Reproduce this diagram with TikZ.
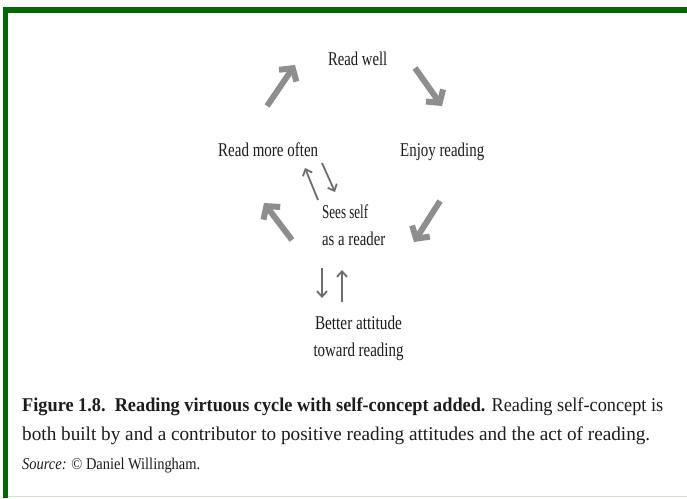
\documentclass[tikz,border=0pt]{standalone}
\usepackage{fontspec}
\setmainfont{Liberation Serif}
\usepackage{graphicx}
\usetikzlibrary{arrows.meta}
\definecolor{frame}{RGB}{0,102,0}
\definecolor{framelight}{RGB}{205,230,205}
\definecolor{arrowgray}{RGB}{142,142,142}
\definecolor{smallgray}{RGB}{110,110,110}
\definecolor{ink}{RGB}{28,28,28}
\newcommand{\fitw}[2]{\resizebox{#1}{\height}{#2}}
\begin{document}
\begin{tikzpicture}[x=1pt,y=-1pt,
  lbl/.style={inner sep=0pt, text=ink, font=\fontsize{19.5}{27}\selectfont},
  bigarrow/.style={draw=arrowgray, line width=6pt, -{Straight Barb[length=9pt,width=21pt]}},
  smallarrow/.style={draw=smallgray, line width=1.8pt, -{Straight Barb[length=5.5pt,width=10pt]}}]
\useasboundingbox (0,0) rectangle (687,498);
\fill[white] (0,0) rectangle (687,498);
% frame
\fill[frame] (3,7.3) rectangle (687,12.7);
\fill[frame] (3,7.3) rectangle (8.3,498);
\draw[framelight, line width=1pt] (8.3,496) -- (687,496);
% labels
\node[lbl, anchor=base west] (rw) at (328,65.7) {\fitw{59pt}{Read well}};
\node[lbl, anchor=base west] (rmo) at (218,156.7) {\fitw{100pt}{Read more often}};
\node[lbl, anchor=base west] (enjoy) at (400,156.7) {\fitw{84pt}{Enjoy reading}};
\node[lbl, anchor=base west, align=left] (sees) at (322,245) {\fitw{46pt}{Sees self}\\\fitw{63pt}{as a reader}};
\node[lbl, anchor=base, align=center] (better) at (358.5,356.5) {\fitw{87pt}{Better attitude}\\\fitw{90pt}{toward reading}};
% caption
\node[lbl, anchor=base west] (cap1) at (22,411.7) {\fitw{641pt}{\textbf{Figure 1.8.\ \ Reading virtuous cycle with self-concept added.} Reading self-concept is}};
\node[lbl, anchor=base west] (cap2) at (22,440) {\fitw{628pt}{both built by and a contributor to positive reading attitudes and the act of reading.}};
\node[lbl, anchor=base west, font=\fontsize{16.5}{20}\selectfont] (cap3) at (22,469) {\fitw{178pt}{\textit{Source:} © Daniel Willingham.}};
% arrow ends
\coordinate (a1s) at (267,106); \coordinate (a1e) at (295,65);
\coordinate (a2s) at (415,68);  \coordinate (a2e) at (442,106);
\coordinate (a3s) at (440,201); \coordinate (a3e) at (414,242);
\coordinate (a4s) at (292,240); \coordinate (a4e) at (264,203);
\coordinate (s1s) at (318,200); \coordinate (s1e) at (305,168);
\coordinate (s2s) at (322,163); \coordinate (s2e) at (335,192);
\coordinate (s3s) at (322,268); \coordinate (s3e) at (322,298);
\coordinate (s4s) at (342,302); \coordinate (s4e) at (342,270);
\draw[bigarrow] (a1s) -- (a1e);
\draw[bigarrow] (a2s) -- (a2e);
\draw[bigarrow] (a3s) -- (a3e);
\draw[bigarrow] (a4s) -- (a4e);
\draw[smallarrow] (s1s) -- (s1e);
\draw[smallarrow] (s2s) -- (s2e);
\draw[smallarrow] (s3s) -- (s3e);
\draw[smallarrow] (s4s) -- (s4e);
\end{tikzpicture}
\end{document}
